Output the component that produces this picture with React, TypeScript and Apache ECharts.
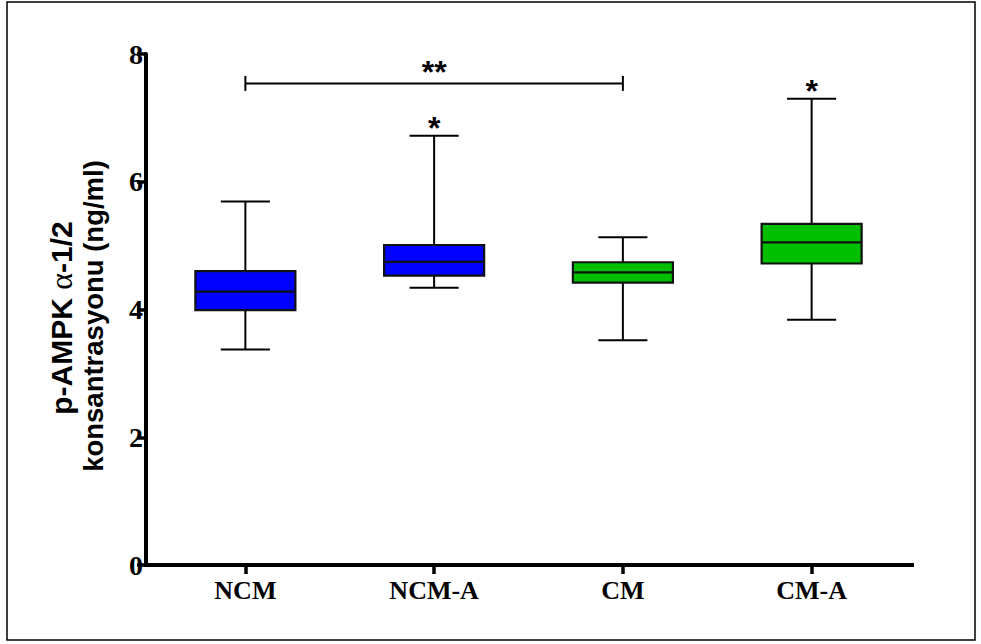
import React, { useEffect, useRef } from "react";
import * as echarts from "echarts";

// Groups on the x axis
const categories = ["NCM", "NCM-A", "CM", "CM-A"];

// Box-and-whisker summary per group (ng/ml)
const whiskerMin = [3.375, 4.34, 3.52, 3.84];
const quartile1 = [3.99, 4.53, 4.42, 4.72];
const medians = [4.28, 4.745, 4.58, 5.05];
const quartile3 = [4.6, 5.01, 4.74, 5.34];
const whiskerMax = [5.69, 6.72, 5.13, 7.3];

// Significance markers above each group
const groupMarks = ["", "*", "", "*"];

// Comparison bracket between two groups
const bracketFrom = 0;
const bracketTo = 2;
const bracketLevel = 7.54;
const bracketMark = "**";

const yTicks = { min: 0, max: 8, step: 2 };

const boxColors = ["#0000FF", "#0000FF", "#00BF00", "#00BF00"];

const SANS = "Liberation Sans, Arial, sans-serif";
const SERIF = "Liberation Serif, Times New Roman, serif";

function renderBox(params: any, api: any) {
  const i = api.value(0);
  const band = api.size([1, 0])[0];
  const boxW = band * 0.53;
  const capW = band * 0.26;
  const [cx, yMin] = api.coord([i, api.value(1)]);
  const yQ1 = api.coord([i, api.value(2)])[1];
  const yMed = api.coord([i, api.value(3)])[1];
  const yQ3 = api.coord([i, api.value(4)])[1];
  const yMax = api.coord([i, api.value(5)])[1];
  const line = { stroke: "#000", lineWidth: 2 };
  const children: any[] = [
    { type: "line", shape: { x1: cx, y1: yQ1, x2: cx, y2: yMin }, style: line },
    { type: "line", shape: { x1: cx, y1: yQ3, x2: cx, y2: yMax }, style: line },
    { type: "line", shape: { x1: cx - capW / 2, y1: yMin, x2: cx + capW / 2, y2: yMin }, style: line },
    { type: "line", shape: { x1: cx - capW / 2, y1: yMax, x2: cx + capW / 2, y2: yMax }, style: line },
    {
      type: "rect",
      shape: { x: cx - boxW / 2, y: yQ3, width: boxW, height: yQ1 - yQ3 },
      style: { fill: boxColors[params.dataIndex], stroke: "#111", lineWidth: 2.2 },
    },
    { type: "line", shape: { x1: cx - boxW / 2, y1: yMed, x2: cx + boxW / 2, y2: yMed }, style: { stroke: "#111", lineWidth: 2.2 } },
  ];
  const mark = groupMarks[params.dataIndex];
  if (mark) {
    children.push({
      type: "text",
      style: {
        text: mark,
        x: cx,
        y: yMax - 8,
        align: "center",
        verticalAlign: "middle",
        font: `bold 32px ${SANS}`,
        fill: "#000",
      },
    });
  }
  return { type: "group", children };
}

function renderBracket(params: any, api: any) {
  const [x1, y] = api.coord([api.value(0), api.value(2)]);
  const x2 = api.coord([api.value(1), api.value(2)])[0];
  const line = { stroke: "#000", lineWidth: 2 };
  return {
    type: "group",
    children: [
      { type: "line", shape: { x1, y1: y, x2, y2: y }, style: line },
      { type: "line", shape: { x1, y1: y - 7.5, x2: x1, y2: y + 7.5 }, style: line },
      { type: "line", shape: { x1: x2, y1: y - 7.5, x2, y2: y + 7.5 }, style: line },
      {
        type: "text",
        style: {
          text: bracketMark,
          x: (x1 + x2) / 2,
          y: y - 11,
          align: "center",
          verticalAlign: "middle",
          font: `bold 32px ${SANS}`,
          fill: "#000",
        },
      },
    ],
  };
}

export default function App() {
  const ref = useRef<HTMLDivElement>(null);

  useEffect(() => {
    if (!ref.current) return;
    const chart = echarts.init(ref.current, null, { renderer: "svg" });

    const boxData = categories.map((_, i) => [
      i,
      whiskerMin[i],
      quartile1[i],
      medians[i],
      quartile3[i],
      whiskerMax[i],
    ]);

    chart.setOption({
      animation: false,
      backgroundColor: "#fff",
      grid: { left: 151, top: 54, width: 755, height: 511 },
      xAxis: {
        type: "category",
        data: categories,
        boundaryGap: true,
        axisLine: { show: true, lineStyle: { color: "#000", width: 4 } },
        axisTick: { show: true, alignWithLabel: true, length: 9, lineStyle: { color: "#000", width: 3.5 } },
        axisLabel: {
          color: "#000",
          fontFamily: SERIF,
          fontWeight: "bold",
          fontSize: 26,
          margin: 12,
        },
        splitLine: { show: false },
      },
      yAxis: {
        type: "value",
        min: yTicks.min,
        max: yTicks.max,
        interval: yTicks.step,
        offset: 5,
        axisLine: { show: true, lineStyle: { color: "#000", width: 4 } },
        axisTick: { show: true, length: 9, lineStyle: { color: "#000", width: 3.5 } },
        axisLabel: {
          color: "#000",
          fontFamily: SERIF,
          fontWeight: "bold",
          fontSize: 28,
          margin: 3,
        },
        splitLine: { show: false },
      },
      series: [
        {
          type: "custom",
          renderItem: renderBox,
          data: boxData,
          encode: { x: 0, y: [1, 2, 3, 4, 5] },
          z: 3,
        },
        {
          type: "custom",
          renderItem: renderBracket,
          data: [[bracketFrom, bracketTo, bracketLevel]],
          encode: { x: [0, 1], y: 2 },
          z: 3,
        },
      ],
      graphic: [
        {
          type: "rect",
          shape: { x: 7, y: 2, width: 968, height: 638 },
          style: { fill: "none", stroke: "#000", lineWidth: 1.5 },
          silent: true,
        },
        {
          type: "line",
          shape: { x1: 144, y1: 565, x2: 914, y2: 565 },
          style: { stroke: "#000", lineWidth: 4 },
          silent: true,
        },
        {
          type: "text",
          x: 61,
          y: 318,
          rotation: Math.PI / 2,
          style: {
            text: "{a|p-AMPK }{b|α}{a|-1/2}",
            align: "center",
            verticalAlign: "middle",
            rich: {
              a: { font: `bold 30px ${SANS}`, fill: "#000" },
              b: { font: `32px ${SERIF}`, fill: "#000" },
            },
          },
        },
        {
          type: "text",
          x: 93,
          y: 316,
          rotation: Math.PI / 2,
          style: {
            text: "konsantrasyonu (ng/ml)",
            align: "center",
            verticalAlign: "middle",
            font: `bold 27.5px ${SANS}`,
            fill: "#000",
          },
        },
      ],
    });

    return () => chart.dispose();
  }, []);

  return (
    <div
      ref={ref}
      style={{ position: "absolute", left: 0, top: 0, width: 981, height: 644 }}
    />
  );
}
